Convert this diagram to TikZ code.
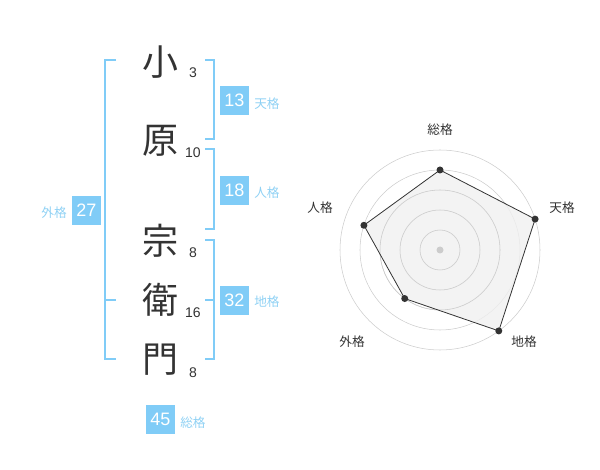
\documentclass[tikz,border=0pt]{standalone}
\usepackage{fontspec}
\setmainfont{Liberation Sans}
\newfontfamily\jpfont{Noto Sans CJK JP}
\usepackage{xcolor}
\definecolor{vdarkgray}{HTML}{333333}
\definecolor{vsky}{HTML}{80CCF7}
\definecolor{vskytext}{HTML}{8FD1F4}
\definecolor{vgrid}{HTML}{CCCCCC}
\definecolor{vpale}{HTML}{F0F0F0}
\begin{document}
\begin{tikzpicture}[x=0.75pt, y=-0.75pt,
		kanji/.style={text=vdarkgray, font=\jpfont\fontsize{27}{27}\selectfont, inner sep=0pt},
		strokes/.style={text=vdarkgray, font=\fontsize{10.5}{11}\selectfont, inner sep=0pt},
		kakubox/.style={fill=vsky, text=white, font=\fontsize{13.5}{14}\selectfont, minimum size=21.75pt, inner sep=0pt},
		kakuname/.style={text=vskytext, font=\jpfont\fontsize{9.5}{10}\selectfont, inner sep=0pt, anchor=west},
		bracket/.style={color=vsky, line width=1.5pt},
		axisname/.style={text=vdarkgray, font=\jpfont\fontsize{9.5}{10}\selectfont, inner sep=0pt}]
		\useasboundingbox (0,0) rectangle (600,470);
		% name and stroke counts
		\node[kanji] (K1) at (160,62) {小};
		\node[kanji] (K2) at (160,141) {原};
		\node[kanji] (K3) at (160,241) {宗};
		\node[kanji] (K4) at (160,300) {衛};
		\node[kanji] (K5) at (160,360) {門};
		\node[strokes] (S1) at (193,73) {3};
		\node[strokes] (S2) at (193,153) {10};
		\node[strokes] (S3) at (193,253) {8};
		\node[strokes] (S4) at (193,313) {16};
		\node[strokes] (S5) at (193,373) {8};
		% brackets
		\draw[bracket] (116,60) -- (105,60) -- (105,359) -- (116,359);
		\draw[bracket] (105,300) -- (116,300);
		\draw[bracket] (205,60) -- (214,60) -- (214,139) -- (205,139);
		\draw[bracket] (205,149) -- (214,149) -- (214,229) -- (205,229);
		\draw[bracket] (205,240) -- (214,240) -- (214,359) -- (205,359);
		\draw[bracket] (205,300) -- (214,300);
		% results
		\node[kakubox] (ten) at (234.5,100.5) {13};
		\node[kakuname] (tenN) at (254,104) {天格};
		\node[kakubox] (jin) at (234.5,190.5) {18};
		\node[kakuname] (jinN) at (254,193) {人格};
		\node[kakubox] (chi) at (234.5,300.5) {32};
		\node[kakuname] (chiN) at (254,302) {地格};
		\node[kakubox] (gai) at (86.5,210.5) {27};
		\node[kakuname, anchor=east] (gaiN) at (67,213) {外格};
		\node[kakubox] (sou) at (160.5,419) {45};
		\node[kakuname] (souN) at (180,423) {総格};
		% radar chart
		\begin{scope}[shift={(440,250)}, x=0.75pt, y=0.75pt]
			\draw[color=vgrid, thin] (0,0) circle (20);
			\draw[color=vgrid, thin] (0,0) circle (40);
			\draw[color=vgrid, thin] (0,0) circle (60);
			\draw[color=vgrid, thin] (0,0) circle (80);
			\draw[color=vgrid, thin] (0,0) circle (100);
			\coordinate (A) at (90:80);
			\coordinate (B) at (18:100);
			\coordinate (C) at (-54:100);
			\coordinate (D) at (-126:60);
			\coordinate (E) at (162:80);
			\fill[color=vpale, fill opacity=0.8] (A) -- (B) -- (C) -- (D) -- (E) -- cycle;
			\draw[color=vgrid] (0,0) circle (20);
			\draw[color=vgrid] (0,0) circle (40);
			\draw[color=vgrid] (0,0) circle (60);
			\draw[color=vdarkgray, line width=0.6pt] (A) -- (B) -- (C) -- (D) -- (E) -- cycle;
			\fill[color=vgrid] (0,0) circle (3.5);
			\fill[color=vdarkgray] (A) circle (3.5);
			\fill[color=vdarkgray] (B) circle (3.5);
			\fill[color=vdarkgray] (C) circle (3.5);
			\fill[color=vdarkgray] (D) circle (3.5);
			\fill[color=vdarkgray] (E) circle (3.5);
			\node[axisname] (Lsou) at (0,120) {総格};
			\node[axisname] (Lten) at (122,42) {天格};
			\node[axisname] (Lchi) at (84,-92) {地格};
			\node[axisname] (Lgai) at (-88,-92) {外格};
			\node[axisname] (Ljin) at (-120,42) {人格};
		\end{scope}
	\end{tikzpicture}
\end{document}
